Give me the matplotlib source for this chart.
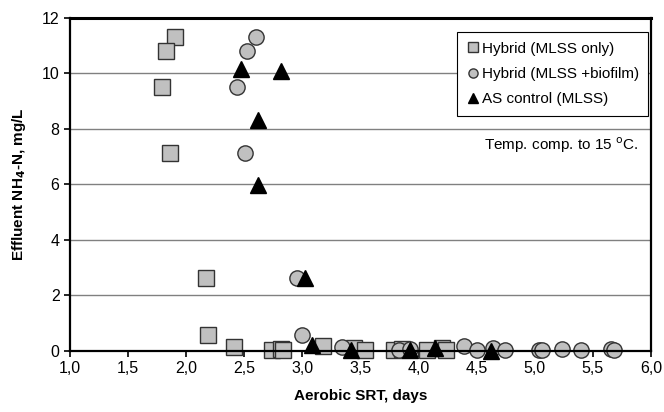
import matplotlib
matplotlib.use("Agg")
import matplotlib.pyplot as plt
from matplotlib.ticker import FuncFormatter

plt.rcParams["font.family"] = ["Liberation Sans", "DejaVu Sans"]

# Hybrid (MLSS only)
sq_x = [1.90, 1.83, 1.79, 1.86, 2.17, 2.19, 2.41, 2.74, 2.82, 2.83, 3.18,
        3.44, 3.54, 3.79, 3.86, 4.07, 4.20, 4.24]
sq_y = [11.30, 10.80, 9.50, 7.12, 2.64, 0.59, 0.14, 0.02, 0.08, 0.03, 0.18,
        0.10, 0.05, 0.02, 0.08, 0.04, 0.12, 0.05]

# Hybrid (MLSS +biofilm)
ci_x = [2.60, 2.52, 2.44, 2.51, 2.95, 3.00, 3.34, 3.83, 3.93, 4.39, 4.50,
        4.64, 4.74, 5.04, 5.06, 5.23, 5.40, 5.66, 5.68]
ci_y = [11.30, 10.80, 9.50, 7.12, 2.64, 0.59, 0.15, 0.02, 0.06, 0.17, 0.05,
        0.12, 0.04, 0.02, 0.03, 0.08, 0.04, 0.08, 0.05]

# AS control (MLSS)
tr_x = [2.47, 2.82, 2.62, 2.62, 3.02, 3.08, 3.42, 3.93, 4.14, 4.62]
tr_y = [10.15, 10.08, 8.30, 5.96, 2.62, 0.22, 0.02, 0.05, 0.12, 0.00]

fig = plt.figure(figsize=(6.64, 4.12), dpi=100)
ax = fig.add_axes([0.1054, 0.148, 0.875, 0.809])

ax.set_xlim(1.0, 6.0)
ax.set_ylim(0, 12)
ax.set_xticks([1.0, 1.5, 2.0, 2.5, 3.0, 3.5, 4.0, 4.5, 5.0, 5.5, 6.0])
ax.set_yticks([0, 2, 4, 6, 8, 10, 12])
ax.xaxis.set_major_formatter(FuncFormatter(lambda v, p: f"{v:.1f}".replace(".", ",")))
ax.grid(axis="y", color="#808080", linewidth=1.0)
ax.set_axisbelow(True)

mk = dict(linestyle="none", markersize=11, markeredgewidth=1.0)
ax.plot(sq_x, sq_y, marker="s", color="#c0c0c0", markeredgecolor="#333333",
        label="Hybrid (MLSS only)", **mk)
ax.plot(ci_x, ci_y, marker="o", color="#c0c0c0", markeredgecolor="#333333",
        label="Hybrid (MLSS +biofilm)", **mk)
ax.plot(tr_x, tr_y, marker="^", color="black", markeredgecolor="black",
        label="AS control (MLSS)", **mk)
for line in ax.lines:
    line.set_clip_on(False)

for s in ax.spines.values():
    s.set_linewidth(1.6)
ax.spines["top"].set_linewidth(2.2)
ax.tick_params(direction="out", length=4, width=1.2, labelsize=11.5, colors="black")

ax.set_xlabel("Aerobic SRT, days", fontsize=11, fontweight="bold", labelpad=9)
ax.set_ylabel("Effluent NH$_\\mathbf{4}$-N, mg/L", fontsize=11, fontweight="bold", labelpad=10)

leg = ax.legend(loc="upper right", bbox_to_anchor=(0.995, 0.956), fontsize=11,
                markerscale=0.6, handletextpad=0.1, handlelength=0.9,
                labelspacing=0.75, borderpad=0.6, fancybox=False, framealpha=1,
                borderaxespad=0)
leg.get_frame().set_edgecolor("black")
leg.get_frame().set_linewidth(0.8)

ax.text(5.89, 7.4, "Temp. comp. to 15 $^{\\rm o}$C.", fontsize=11, ha="right", va="center")

fig.savefig("out.png", dpi=100)
